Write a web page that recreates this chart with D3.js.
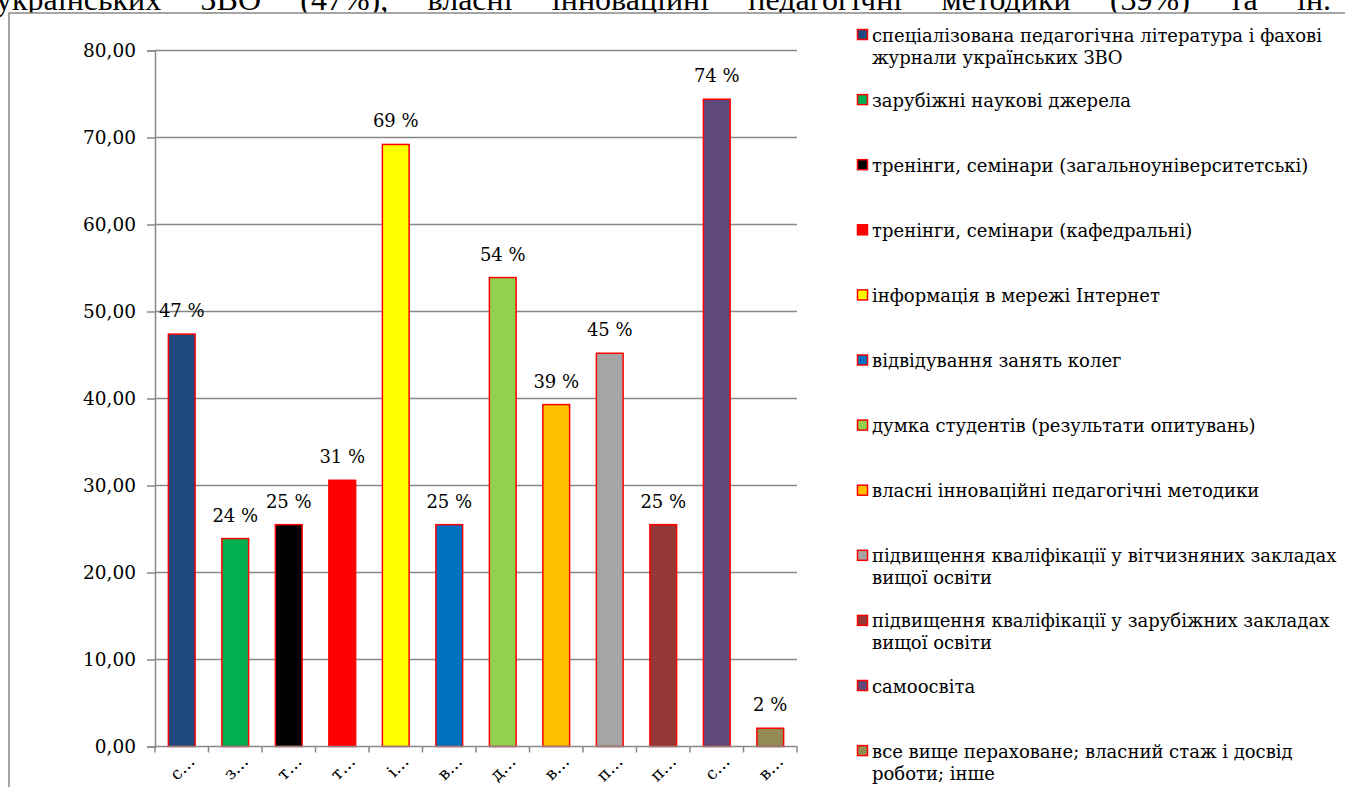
<!DOCTYPE html>
<html lang='uk'>
<head>
  <meta charset='utf-8'>
  <title>Джерела</title>
  <script src='https://cdn.jsdelivr.net/npm/d3@7'></script>
  <style>
    body { margin: 0; background: #fff; }
    svg { display: block; }
  </style>
</head>
<body>
  <script>
    // data
    const categories = [
      "спеціалізована педагогічна література і фахові\nжурнали українських ЗВО",
      "зарубіжні наукові джерела",
      "тренінги, семінари (загальноуніверситетські)",
      "тренінги, семінари (кафедральні)",
      "інформація в мережі Інтернет",
      "відвідування занять колег",
      "думка студентів (результати опитувань)",
      "власні інноваційні педагогічні методики",
      "підвищення кваліфікації у вітчизняних закладах\nвищої освіти",
      "підвищення кваліфікації у зарубіжних закладах\nвищої освіти",
      "самоосвіта",
      "все вище пераховане; власний стаж і досвід\nроботи; інше"
    ];
    const values = [47.4, 23.9, 25.5, 30.6, 69.2, 25.5, 53.9, 39.3, 45.2, 25.5, 74.4, 2.1];
    const percentLabels = ["47 %", "24 %", "25 %", "31 %", "69 %", "25 %", "54 %", "39 %", "45 %", "25 %", "74 %", "2 %"];
    const colors = ["#1f497d", "#00b050", "#000000", "#ff0000", "#ffff00", "#0070c0",
                    "#92d050", "#ffc000", "#a5a5a5", "#953735", "#604a7b", "#948a54"];
    const yTicks = [0, 10, 20, 30, 40, 50, 60, 70, 80];
    const bodyWords = ["українських", "ЗВО", "(47%),", "власні", "інноваційні",
                       "педагогічні", "методики", "(39%)", "та", "ін."];

    const W = 1345, H = 787;
    const font = "'DejaVu Serif', serif";
    const svg = d3.select("body").append("svg").attr("width", W).attr("height", H);

    // clipped line of body text above the chart, justified
    const body = svg.append("g").attr("font-family", "'Liberation Serif', serif")
      .attr("font-size", 32).attr("fill", "#000");
    const words = body.selectAll("text").data(bodyWords).join("text")
      .attr("y", 10).text(d => d);
    const widths = words.nodes().map(n => n.getComputedTextLength());
    const left = -4, right = 1331;
    const gap = (right - left - d3.sum(widths)) / (bodyWords.length - 1);
    let cx = left;
    words.attr("x", (d, i) => { const x = cx; cx += widths[i] + gap; return x; });

    // chart frame
    svg.append("rect").attr("x", 9).attr("y", 13).attr("width", W).attr("height", H)
      .attr("fill", "#fff").attr("stroke", "#888").attr("stroke-width", 1.5);

    // scales
    const x = d3.scaleBand().domain(d3.range(categories.length)).range([155, 797])
      .paddingInner(0.5).paddingOuter(0.25);
    const y = d3.scaleLinear().domain([0, 80]).range([746.5, 50.5]);

    // gridlines
    svg.append("g").selectAll("line").data(yTicks.slice(1)).join("line")
      .attr("x1", 155).attr("x2", 797)
      .attr("y1", d => y(d)).attr("y2", d => y(d))
      .attr("stroke", "#888").attr("stroke-width", 1.5);

    // y axis
    const yAxis = svg.append("g").attr("transform", "translate(155,0)")
      .call(d3.axisLeft(y).tickValues(yTicks).tickSize(8).tickPadding(11)
        .tickFormat(d => d3.format(".2f")(d).replace(".", ",")));
    yAxis.select(".domain").attr("stroke", "#888").attr("stroke-width", 1.5);
    yAxis.selectAll(".tick line").attr("stroke", "#888").attr("stroke-width", 1.5);
    yAxis.selectAll(".tick text").attr("font-family", font).attr("font-size", 18.5).attr("fill", "#000");

    // bars
    svg.append("g").selectAll("rect").data(values).join("rect")
      .attr("x", (d, i) => x(i))
      .attr("y", d => y(d))
      .attr("width", x.bandwidth())
      .attr("height", d => y(0) - y(d))
      .attr("fill", (d, i) => colors[i])
      .attr("stroke", "#ff0000").attr("stroke-width", 1.5);

    // value labels
    svg.append("g").selectAll("text").data(values).join("text")
      .attr("x", (d, i) => x(i) + x.bandwidth() / 2)
      .attr("y", d => y(d) - 17)
      .attr("text-anchor", "middle")
      .attr("font-family", font).attr("font-size", 18)
      .text((d, i) => percentLabels[i]);

    // x axis
    const step = x.step();
    const xb = svg.append("g");
    xb.append("line").attr("x1", 155).attr("x2", 797).attr("y1", y(0)).attr("y2", y(0))
      .attr("stroke", "#888").attr("stroke-width", 1.5);
    xb.selectAll(".xt").data(d3.range(categories.length + 1)).join("line")
      .attr("x1", i => 155 + i * step).attr("x2", i => 155 + i * step)
      .attr("y1", y(0)).attr("y2", y(0) + 6)
      .attr("stroke", "#888").attr("stroke-width", 1.5);
    xb.selectAll("text").data(categories).join("text")
      .attr("transform", (d, i) => `translate(${x(i) + x.bandwidth() / 2 + 14},${y(0) + 16}) rotate(-45)`)
      .attr("text-anchor", "end")
      .attr("font-family", font).attr("font-size", 17)
      .text(d => d[0] + "…");

    // legend
    const legend = svg.append("g").attr("transform", "translate(857,35)");
    const items = legend.selectAll("g").data(categories).join("g")
      .attr("transform", (d, i) => `translate(0,${i * 65.1})`);
    items.append("rect").attr("x", 0.5).attr("y", -5.5).attr("width", 10).attr("height", 10)
      .attr("fill", (d, i) => colors[i]).attr("stroke", "#ff0000").attr("stroke-width", 1.5);
    items.append("text")
      .attr("font-family", font).attr("font-size", 18).attr("fill", "#000")
      .selectAll("tspan").data(d => d.split("\n")).join("tspan")
      .attr("x", 15).attr("y", (d, i) => i * 22 + 6.5)
      .text(d => d);
  </script>
</body>
</html>
